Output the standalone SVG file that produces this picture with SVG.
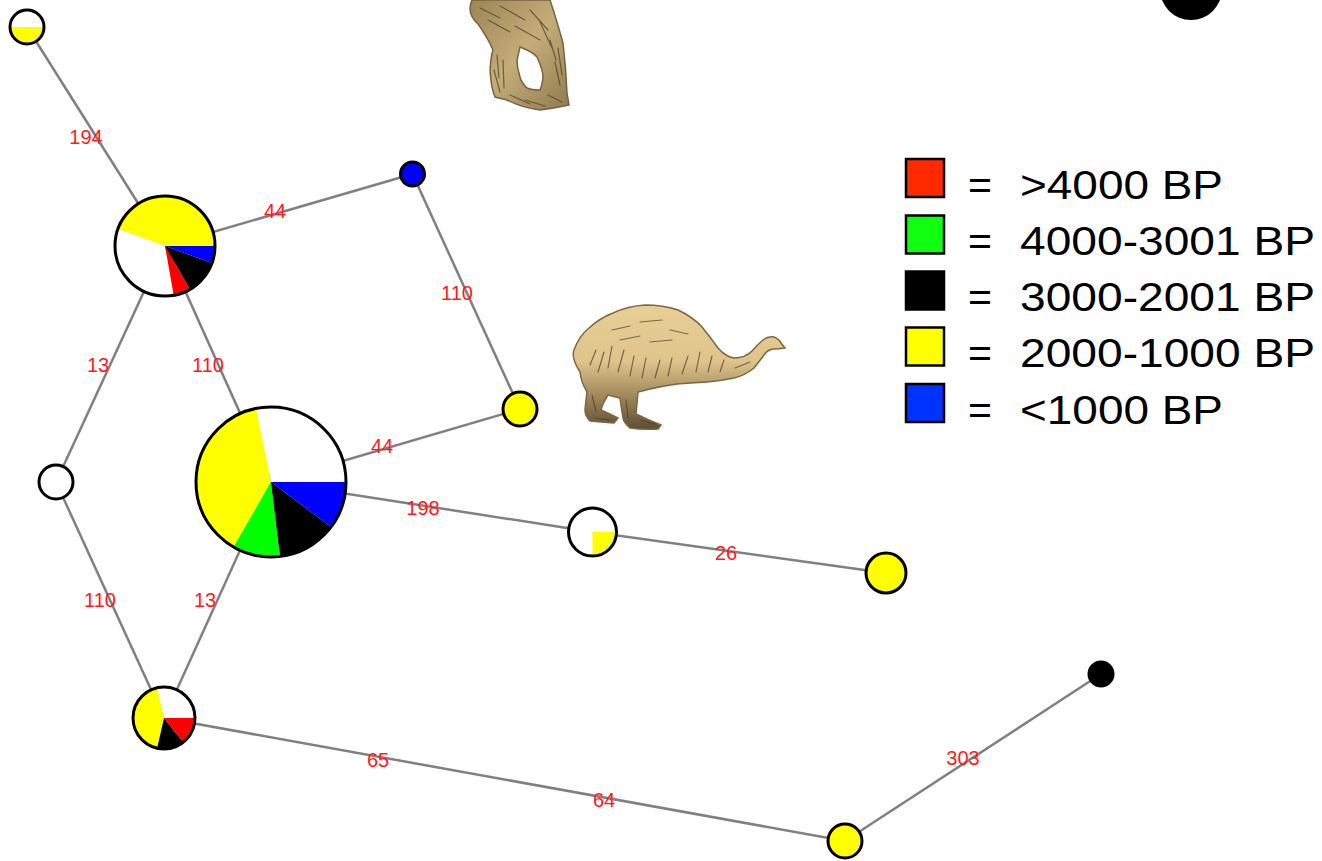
<svg xmlns="http://www.w3.org/2000/svg" width="1322" height="861" viewBox="0 0 1322 861">
  <style>
    .edge { stroke: #808080; stroke-width: 2.5; fill: none; }
    .lbl { font-family: "Liberation Sans", Arial, sans-serif; font-size: 20px; fill: #ff1a1a; text-anchor: middle; }
    .ring { fill: none; stroke: #000; stroke-width: 3; }
    .dot { stroke: #000; stroke-width: 3; }
    .y { fill: #ffff00; }
    .w { fill: #ffffff; }
    .r { fill: #ff0000; }
    .g { fill: #00ff00; }
    .k { fill: #000000; }
    .b { fill: #0000ff; }
    .key { stroke: #000; stroke-width: 2.5; }
    .legtxt { font-family: "Liberation Sans", Arial, sans-serif; font-size: 41px; fill: #000; }
    .fur { fill: none; stroke: #4d3d26; stroke-width: 1.2; stroke-linecap: round; opacity: 0.7; }
  </style>
  <defs>
    <linearGradient id="moaBody" x1="0" y1="0" x2="0" y2="1">
      <stop offset="0" stop-color="#e8cf96"/>
      <stop offset="0.45" stop-color="#dfc48c"/>
      <stop offset="0.75" stop-color="#9c8458"/>
      <stop offset="1" stop-color="#5e4d34"/>
    </linearGradient>
    <linearGradient id="moaLegs" x1="0" y1="0" x2="1" y2="1">
      <stop offset="0" stop-color="#9c8456"/>
      <stop offset="0.5" stop-color="#c4ad78"/>
      <stop offset="1" stop-color="#8f7a50"/>
    </linearGradient>
  </defs>

  <rect width="1322" height="861" fill="#ffffff"/>

  <!-- moa drawings -->
  <g id="moa-legs">
    <path d="M472,0 L550,0 Q556,18 563,43 Q566,68 567,93 L569,105 Q555,108 540,110 Q523,108 507,100 L495,97 Q491,88 490,70 Q491,55 493,50 Q488,38 478,24 Q466,13 472,0 Z M520,47 Q533,52 537,57 Q543,70 543,77 Q542,86 540,90 Q531,90 527,88 Q521,82 520,77 Q517,68 517,60 Z" fill="url(#moaLegs)" fill-rule="evenodd" stroke="#7a6240" stroke-width="1.5"/>
    <path class="fur" d="M480,8 L500,18 M488,20 L510,32 M500,6 L525,20 M515,26 L540,40 M530,10 L548,30 M550,40 L556,60 M555,62 L560,85 M548,95 L562,102 M497,55 L499,78 M503,60 L504,88 M510,95 L530,104 M525,100 L545,106 M540,22 L552,48 M494,70 L500,92 M558,48 L562,75"/>
  </g>

  <g id="moa-body">
    <path d="M580,372 Q571,358 574,350 Q579,336 589,328 Q600,318 613,313 Q628,306 645,305 Q663,305 678,310 Q693,317 702,327 Q711,338 718,348 Q726,357 734,358 Q745,358 752,351 Q758,344 763,340 Q768,336 774,337 Q779,339 781,343 L785,348 Q778,349 773,349 Q767,350 764,355 Q758,363 754,368 Q744,376 734,378 Q720,381 707,382 Q690,383 677,384 Q663,386 650,389 L638,392 Q637,403 636,414 Q648,420 661,425 L658,429 Q643,430 630,428 Q624,423 623,418 Q621,406 620,398 L608,395 Q605,400 604,402 Q602,406 601,410 Q610,414 618,418 L614,423 Q601,422 590,421 Q585,416 585,410 Q586,399 587,392 Q581,382 580,372 Z" fill="url(#moaBody)" stroke="#7e6440" stroke-width="1.5"/>
    <path class="fur" d="M590,365 L596,350 M598,372 L604,352 M608,368 L612,346 M618,372 L624,350 M630,376 L634,356 M642,378 L646,358 M655,378 L660,360 M668,376 L672,358 M682,374 L688,356 M696,372 L700,352 M708,372 L712,356 M720,372 L724,360 M612,330 L630,326 M640,322 L662,320 M670,330 L688,334 M620,340 L640,336 M650,342 L672,340 M735,368 L750,362 M592,395 L596,412 M626,400 L628,418 M640,420 L655,424 M595,418 L610,420"/>
  </g>

  <!-- connectors -->
  <g id="connectors">
    <line class="edge" x1="27" y1="27" x2="165" y2="246"/>
    <line class="edge" x1="165" y1="246" x2="412.5" y2="174"/>
    <line class="edge" x1="412.5" y1="174" x2="520" y2="409"/>
    <line class="edge" x1="165" y1="246" x2="56" y2="482"/>
    <line class="edge" x1="165" y1="246" x2="271" y2="482"/>
    <line class="edge" x1="271" y1="482" x2="520" y2="409"/>
    <line class="edge" x1="271" y1="482" x2="592.5" y2="532"/>
    <line class="edge" x1="592.5" y1="532" x2="886" y2="573"/>
    <line class="edge" x1="56" y1="482" x2="164" y2="718"/>
    <line class="edge" x1="271" y1="482" x2="164" y2="718"/>
    <line class="edge" x1="164" y1="718" x2="845" y2="841"/>
    <line class="edge" x1="845" y1="841" x2="1101" y2="674"/>
    <text class="lbl" x="86" y="144">194</text>
    <text class="lbl" x="275" y="218">44</text>
    <text class="lbl" x="457" y="300">110</text>
    <text class="lbl" x="98" y="372">13</text>
    <text class="lbl" x="208" y="372">110</text>
    <text class="lbl" x="382" y="453">44</text>
    <text class="lbl" x="423" y="515">198</text>
    <text class="lbl" x="726" y="560">26</text>
    <text class="lbl" x="100" y="607">110</text>
    <text class="lbl" x="205" y="607">13</text>
    <text class="lbl" x="378" y="767">65</text>
    <text class="lbl" x="604" y="807">64</text>
    <text class="lbl" x="963" y="765">303</text>
  </g>

  <!-- nodes -->
  <g id="node-top-left">
    <circle class="w" cx="27" cy="27" r="17"/>
    <path class="y" d="M10,27 A17,17 0 0 0 44,27 Z"/>
    <circle class="ring" cx="27" cy="27" r="17"/>
  </g>

  <g id="node-a">
    <path class="y" d="M165,246 L215,246 A50,50 0 0 0 118.02,228.9 Z"/>
    <path class="w" d="M165,246 L118.02,228.9 A50,50 0 0 0 173.68,295.24 Z"/>
    <path class="r" d="M165,246 L173.68,295.24 A50,50 0 0 0 190,289.3 Z"/>
    <path class="k" d="M165,246 L190,289.3 A50,50 0 0 0 211.98,263.1 Z"/>
    <path class="b" d="M165,246 L211.98,263.1 A50,50 0 0 0 215,246 Z"/>
    <circle class="ring" cx="165" cy="246" r="50"/>
  </g>

  <g id="node-blue">
    <circle class="dot b" cx="412.5" cy="174" r="12"/>
  </g>

  <g id="node-yellow-mid">
    <circle class="dot y" cx="520" cy="409" r="17"/>
  </g>

  <g id="node-white">
    <circle class="dot w" cx="56" cy="482" r="17"/>
  </g>

  <g id="node-b">
    <path class="w" d="M271,482 L346,482 A75,75 0 0 0 256,408.51 Z"/>
    <path class="y" d="M271,482 L256,408.51 A75,75 0 0 0 233.5,546.95 Z"/>
    <path class="g" d="M271,482 L233.5,546.95 A75,75 0 0 0 280.04,556.45 Z"/>
    <path class="k" d="M271,482 L280.04,556.45 A75,75 0 0 0 330.96,527.05 Z"/>
    <path class="b" d="M271,482 L330.96,527.05 A75,75 0 0 0 346,482 Z"/>
    <circle class="ring" cx="271" cy="482" r="75"/>
  </g>

  <g id="node-d">
    <path class="w" d="M592.5,532 L616.5,532 A24,24 0 1 0 592.5,556 Z"/>
    <path class="y" d="M592.5,532 L592.5,556 A24,24 0 0 0 616.5,532 Z"/>
    <circle class="ring" cx="592.5" cy="532" r="24"/>
  </g>

  <g id="node-yellow-right">
    <circle class="dot y" cx="886" cy="573" r="20"/>
  </g>

  <g id="node-c">
    <path class="w" d="M164,718 L195,718 A31,31 0 0 0 157.1,687.78 Z"/>
    <path class="y" d="M164,718 L157.1,687.78 A31,31 0 0 0 157.1,748.22 Z"/>
    <path class="k" d="M164,718 L157.1,748.22 A31,31 0 0 0 183.33,742.24 Z"/>
    <path class="r" d="M164,718 L183.33,742.24 A31,31 0 0 0 195,718 Z"/>
    <circle class="ring" cx="164" cy="718" r="31"/>
  </g>

  <g id="node-yellow-bottom">
    <circle class="dot y" cx="845" cy="841" r="17"/>
  </g>

  <g id="node-black">
    <circle class="dot k" cx="1101" cy="674" r="12"/>
  </g>

  <g id="node-black-top">
    <circle class="k" cx="1191" cy="-11" r="31"/>
  </g>

  <!-- legend -->
  <g id="legend">
    <rect class="key" x="906" y="159" width="38" height="38" fill="#ff2a00"/>
    <rect class="key" x="906" y="215.5" width="38" height="38" fill="#11ff11"/>
    <rect class="key" x="906" y="271.5" width="38" height="38" fill="#000000"/>
    <rect class="key" x="906" y="327.5" width="38" height="38" fill="#ffff00"/>
    <rect class="key" x="906" y="384" width="38" height="38" fill="#0033ff"/>
    <text class="legtxt" x="968" y="198.5">=</text>
    <text class="legtxt" x="968" y="254.8">=</text>
    <text class="legtxt" x="968" y="311.1">=</text>
    <text class="legtxt" x="968" y="367.4">=</text>
    <text class="legtxt" x="968" y="423.7">=</text>
    <text class="legtxt" x="1020" y="198.5" textLength="203" lengthAdjust="spacingAndGlyphs">&gt;4000 BP</text>
    <text class="legtxt" x="1020" y="254.8" textLength="295" lengthAdjust="spacingAndGlyphs">4000-3001 BP</text>
    <text class="legtxt" x="1020" y="311.1" textLength="295" lengthAdjust="spacingAndGlyphs">3000-2001 BP</text>
    <text class="legtxt" x="1020" y="367.4" textLength="295" lengthAdjust="spacingAndGlyphs">2000-1000 BP</text>
    <text class="legtxt" x="1020" y="423.7" textLength="203" lengthAdjust="spacingAndGlyphs">&lt;1000 BP</text>
  </g>
</svg>
